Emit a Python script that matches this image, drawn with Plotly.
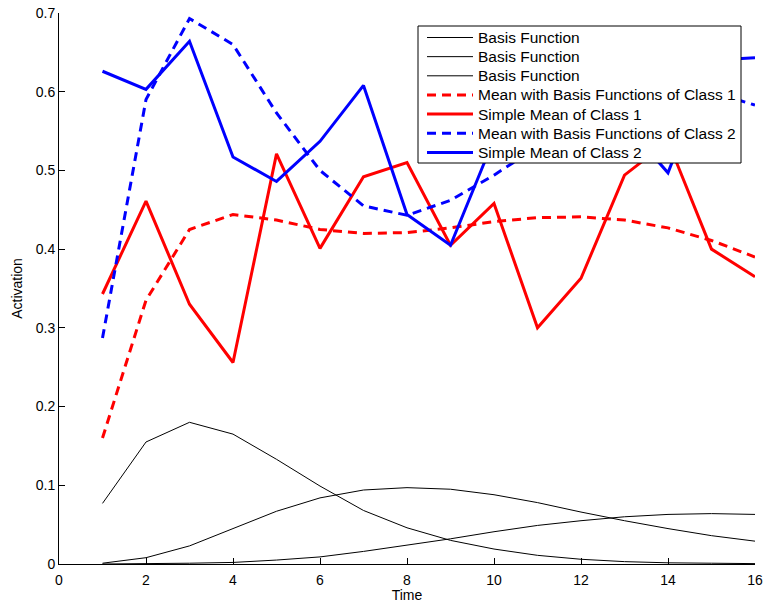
import plotly.graph_objects as go

time = list(range(1, 17))

basis_1 = [0.077, 0.155, 0.180, 0.165, 0.133, 0.099, 0.068, 0.046, 0.030, 0.019, 0.011, 0.006, 0.003, 0.0015, 0.001, 0.0005]
basis_2 = [0.001, 0.008, 0.023, 0.045, 0.067, 0.084, 0.094, 0.097, 0.095, 0.088, 0.078, 0.066, 0.055, 0.045, 0.036, 0.029]
basis_3 = [0.0, 0.0003, 0.001, 0.002, 0.005, 0.009, 0.016, 0.024, 0.032, 0.041, 0.049, 0.055, 0.060, 0.063, 0.064, 0.063]

mean_basis_c1 = [0.160, 0.335, 0.425, 0.444, 0.437, 0.425, 0.420, 0.421, 0.427, 0.435, 0.440, 0.441, 0.437, 0.427, 0.411, 0.390]
simple_mean_c1 = [0.343, 0.461, 0.330, 0.256, 0.521, 0.401, 0.492, 0.510, 0.405, 0.458, 0.300, 0.363, 0.494, 0.537, 0.400, 0.365]
mean_basis_c2 = [0.287, 0.590, 0.693, 0.660, 0.573, 0.500, 0.455, 0.443, 0.462, 0.494, 0.530, 0.570, 0.600, 0.610, 0.600, 0.583]
simple_mean_c2 = [0.626, 0.603, 0.664, 0.517, 0.486, 0.537, 0.608, 0.444, 0.405, 0.540, 0.570, 0.590, 0.560, 0.497, 0.640, 0.643]

names = ["Basis Function", "Basis Function", "Basis Function",
         "Mean with Basis Functions of Class 1", "Simple Mean of Class 1",
         "Mean with Basis Functions of Class 2", "Simple Mean of Class 2"]

DASH = "9px,6px"
styles = [
    dict(color="black", width=1),
    dict(color="black", width=1),
    dict(color="black", width=1),
    dict(color="#ff0000", width=3, dash=DASH),
    dict(color="#ff0000", width=3),
    dict(color="#0000ff", width=3, dash=DASH),
    dict(color="#0000ff", width=3),
]
series = [basis_1, basis_2, basis_3, mean_basis_c1, simple_mean_c1, mean_basis_c2, simple_mean_c2]

fig = go.Figure()
for s, nm, st in zip(series, names, styles):
    fig.add_trace(go.Scatter(x=time, y=s, mode="lines", name=nm, line=st, showlegend=False))

# Figure geometry (pixels)
W, H = 764, 603
ML, MR, MT, MB = 59, 9, 13, 39
PW, PH = W - ML - MR, H - MT - MB


def px(xp):
    return (xp - ML) / PW


def py(yp):
    return (H - MB - yp) / PH


# MATLAB-style legend box (opaque, drawn over the lines)
LEG_L, LEG_R, LEG_T, LEG_B = 418, 741, 26, 163
ROW0, ROW_STEP = 37.5, 19.15
SAMPLE_L, SAMPLE_R, TEXT_L = 427, 473, 477

shapes = [dict(type="rect", xref="paper", yref="paper",
               x0=px(LEG_L), x1=px(LEG_R), y0=py(LEG_B), y1=py(LEG_T),
               fillcolor="white", line=dict(color="black", width=1), layer="above")]
annotations = []
for i, (nm, st) in enumerate(zip(names, styles)):
    yc = ROW0 + i * ROW_STEP
    shapes.append(dict(type="line", xref="paper", yref="paper",
                       x0=px(SAMPLE_L), x1=px(SAMPLE_R), y0=py(yc), y1=py(yc),
                       line=dict(color=st["color"], width=st["width"],
                                 dash=st.get("dash", "solid")),
                       layer="above"))
    annotations.append(dict(xref="paper", yref="paper", x=px(TEXT_L), y=py(yc),
                            xanchor="left", yanchor="middle", text=nm, showarrow=False,
                            font=dict(size=15.5, color="black"), borderpad=0))

fig.update_layout(
    width=W, height=H,
    margin=dict(l=ML, r=MR, t=MT, b=MB),
    paper_bgcolor="white", plot_bgcolor="white",
    font=dict(family="Liberation Sans, Arial, sans-serif", size=14, color="black"),
    showlegend=False,
    shapes=shapes,
    annotations=annotations,
    xaxis=dict(range=[0, 16], tickmode="array", tickvals=list(range(0, 17, 2)),
               showgrid=False, zeroline=False, showline=True, linecolor="black",
               linewidth=1, ticks="inside", ticklen=6, tickcolor="black",
               automargin=False, ticklabelstandoff=3,
               title=dict(text="Time", font=dict(size=14), standoff=4)),
    yaxis=dict(range=[0, 0.7], tickmode="array",
               tickvals=[0, 0.1, 0.2, 0.3, 0.4, 0.5, 0.6, 0.7],
               ticktext=["0", "0.1", "0.2", "0.3", "0.4", "0.5", "0.6", "0.7"],
               showgrid=False, zeroline=False, showline=True, linecolor="black",
               linewidth=1, ticks="inside", ticklen=6, tickcolor="black",
               automargin=False,
               title=dict(text="Activation", font=dict(size=14), standoff=9)),
)

fig.write_html("out.html")
